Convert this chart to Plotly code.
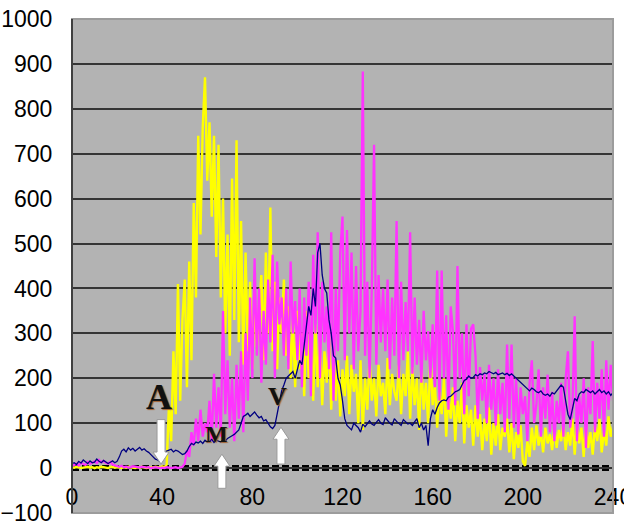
import plotly.graph_objects as go

# ---------------- data ----------------
x_vals = list(range(0, 241))

yellow_vals = [
    2, 1, 3, 2, 0, 1, 2, 3, 1, 2,
    0, 2, 1, 3, 2, 1, 0, 2, 3, 1,
    2, 1, 0, 2, 1, 3, 2, 1, 0, 2,
    1, 3, 2, 0, 1, 2, 1, 3, 2, 1,
    4, 2, 8, 140, 60, 260, 120, 410, 150, 330,
    420, 180, 460, 240, 590, 380, 740, 520, 760, 870,
    640, 770, 560, 740, 470, 720, 380, 600, 300, 520,
    250, 645, 330, 730, 280, 550, 230, 480, 260, 415,
    220, 380, 270, 340, 430, 240, 480, 300, 580, 260,
    415, 220, 380, 300, 420, 250, 360, 200, 330, 180,
    350, 220, 300, 160, 350, 200, 280, 150, 320, 180,
    290, 140, 260, 190, 300, 130, 275, 150, 240, 115,
    220, 160, 250, 120, 230, 170, 210, 100, 240, 85,
    200, 130, 245, 150, 200, 115, 230, 160, 190, 120,
    245, 140, 210, 170, 150, 230, 120, 210, 160, 260,
    110, 225, 140, 200, 85, 230, 130, 190, 100, 250,
    140, 185, 90, 170, 120, 200, 70, 160, 110, 180,
    60, 150, 100, 190, 55, 140, 90, 130, 50, 140,
    70, 120, 40, 110, 60, 135, 30, 100, 50, 120,
    40, 90, 70, 110, 35, 100, 20, 80, 45, 95,
    15, 5, 60, 25, 90, 40, 95, 50, 80, 35,
    90, 55, 75, 40, 95, 45, 85, 60, 100, 40,
    80, 50, 110, 30, 100, 55, 90, 25, 105, 45,
    80, 30, 95, 60, 110, 35, 85, 50, 115, 70,
    93,
]

magenta_vals = [
    5, 8, 10, 6, 12, 9, 7, 14, 10, 12,
    15, 11, 18, 13, 16, 12, 10, 14, 8, 6,
    4, 3, 5, 2, 3, 1, 2, 4, 3, 2,
    1, 3, 2, 1, 2, 0, 1, 2, 1, 0,
    1, 0, 2, 1, 0, 1, 2, 0, 1, 3,
    10, 40, 25, 80, 50, 110, 60, 130, 70, 100,
    80, 150, 60, 210, 90, 180, 70, 350, 120, 240,
    90, 200, 60, 230, 110, 260, 80, 300, 150, 380,
    200, 467, 250, 400, 190, 350, 230, 420, 280, 475,
    200, 460, 320, 380, 250, 400, 220, 460, 300, 372,
    240, 400, 180, 380, 250, 415, 160, 475, 300, 525,
    200, 415, 280, 360, 220, 525, 150, 400, 260, 480,
    560, 240, 530, 300, 480, 220, 450, 260, 350, 883,
    250, 415, 200, 400, 720, 230, 430, 280, 400, 260,
    420, 220, 380, 250, 550, 200, 415, 240, 370, 260,
    525, 210, 380, 230, 330, 190, 350, 240, 305, 200,
    320, 180, 440, 150, 440, 200, 340, 130, 360, 305,
    140, 450, 200, 300, 120, 320, 160, 310, 320, 250,
    110, 225, 150, 210, 100, 230, 130, 200, 95, 220,
    120, 190, 80, 275, 110, 275, 90, 200, 75, 180,
    120, 160, 60, 190, 240, 100, 140, 220, 70, 180,
    110, 208, 80, 170, 60, 150, 100, 190, 70, 200,
    260, 90, 130, 338, 60, 160, 100, 200, 45, 180,
    120, 283, 80, 190, 110, 220, 70, 240, 130, 230,
    150,
]

navy_vals = [
    10, 12, 8, 15, 11, 18, 14, 10, 16, 12,
    13, 20, 15, 12, 17, 14, 10, 13, 16, 12,
    15, 25, 38, 42, 36, 45, 40, 44, 38, 42,
    46, 40, 43, 38, 35, 30, 25, 20, 18, 15,
    16, 25, 38, 40, 42, 36, 40, 38, 33, 30,
    32, 38, 48, 55, 52, 58, 56, 60, 55, 62,
    58, 60, 64, 57, 62, 60, 58, 63, 60, 66,
    70, 72, 75, 80, 85, 100, 115, 118, 122, 115,
    120, 125, 118, 112, 115, 105, 108, 100, 92, 88,
    95, 120, 150, 172, 185, 200, 205, 210, 215, 200,
    220, 240, 230, 270, 320, 360, 340, 400, 360, 480,
    500, 430, 400, 390, 330, 300, 250, 245, 200, 185,
    150, 110, 95, 90, 85, 100, 95, 90, 80, 98,
    92, 100, 105, 98, 95, 102, 108, 100, 97, 112,
    105, 100, 96, 110, 104, 100, 95, 108, 102, 98,
    100, 95, 103, 110, 90, 100, 85, 95, 50, 110,
    130, 120, 135, 145, 150, 152, 150, 158, 160, 165,
    170, 172, 175, 185, 195, 198, 205, 200, 202, 208,
    205, 210, 208, 212, 210, 215, 212, 210, 213, 208,
    210, 212, 208, 211, 206, 210, 205, 200, 195, 190,
    185, 180, 175, 172, 178, 175, 170, 168, 172, 165,
    162, 165, 160, 168, 165, 172, 178, 185, 180, 150,
    120, 108, 130, 155, 150, 165, 170, 168, 175, 172,
    168, 172, 165, 170, 175, 168, 172, 165, 170, 162,
    168,
]

y_tick_vals = list(range(-100, 1001, 100))
x_tick_vals = [0, 40, 80, 120, 160, 200, 240]
x_tick_text = ["0", "40", "80", "120", "160", "200", "240"]

# event markers: label, label position, arrow x, arrow tip y, arrow tail y
marker_labels = ["A", "M", "V"]
marker_label_x = [38.6, 64.3, 91.0]
marker_label_y = [159, 77, 159]
marker_arrow_x = [39.5, 66.5, 92.7]
marker_tip_y = [9, 31, 91]
marker_tail_y = [108, -45, 9]
marker_font_size = [36, 24, 26]

# ---------------- figure ----------------
W, H = 624, 523
ML, MR, MT, MB = 72, 11, 19, 10
XR = [0, 240]
YR = [-100, 1000]
px_per_x = (W - ML - MR) / (XR[1] - XR[0])
px_per_y = (H - MT - MB) / (YR[1] - YR[0])

fig = go.Figure()
fig.add_trace(go.Scatter(x=x_vals, y=yellow_vals, mode="lines",
                         line=dict(color="#ffff00", width=2.4), name="yellow"))
fig.add_trace(go.Scatter(x=x_vals, y=magenta_vals, mode="lines",
                         line=dict(color="#ff33ff", width=2.3), name="magenta"))
fig.add_trace(go.Scatter(x=x_vals, y=navy_vals, mode="lines",
                         line=dict(color="#000080", width=1.3), name="navy"))

shapes = []
# dashed zero line (under the traces)
shapes.append(dict(type="line", xref="x", yref="y", x0=XR[0], x1=XR[1], y0=0, y1=0,
                   line=dict(color="#000000", width=6, dash="7px,3px"), layer="below"))


def arrow_path(cx, tip, tail):
    shaft_hw = 4.0 / px_per_x
    head_hw = 8.0 / px_per_x
    head_len = 12.0 / px_per_y
    d = 1 if tip > tail else -1  # 1 = pointing up
    base = tip - d * head_len
    pts = [(cx - shaft_hw, tail), (cx - shaft_hw, base), (cx - head_hw, base),
           (cx, tip), (cx + head_hw, base), (cx + shaft_hw, base), (cx + shaft_hw, tail)]
    return "M " + " L ".join(f"{a:.3f},{b:.3f}" for a, b in pts) + " Z"


annotations = []
for lab, lx, ly, ax, tip, tail, fs in zip(marker_labels, marker_label_x, marker_label_y,
                                          marker_arrow_x, marker_tip_y, marker_tail_y,
                                          marker_font_size):
    shapes.append(dict(type="path", xref="x", yref="y", path=arrow_path(ax, tip, tail),
                       fillcolor="#ffffff", line=dict(color="#9a9a9a", width=1), layer="above"))
    annotations.append(dict(x=lx, y=ly, xref="x", yref="y",
                            text=f"<b>{lab}</b>", showarrow=False,
                            font=dict(family="Liberation Serif, DejaVu Serif, serif",
                                      size=fs, color="#111111",
                                      shadow="1px 1px 1px #a06030")))

# plot-area border
shapes.append(dict(type="rect", xref="paper", yref="paper", x0=0, x1=1, y0=0, y1=1,
                   line=dict(color="#9c9c9c", width=2), layer="above"))
shapes.append(dict(type="line", xref="paper", yref="paper", x0=0, x1=0, y0=0, y1=1,
                   line=dict(color="#404040", width=2), layer="above"))

fig.update_layout(
    width=W, height=H,
    margin=dict(l=ML, r=MR, t=MT, b=MB, pad=0, autoexpand=False),
    paper_bgcolor="#ffffff",
    plot_bgcolor="#b3b3b3",
    showlegend=False,
    shapes=shapes,
    annotations=annotations,
    font=dict(family="Liberation Sans, Arial, sans-serif", color="#000000"),
    xaxis=dict(
        range=XR, tickmode="array", tickvals=x_tick_vals, ticktext=x_tick_text,
        showgrid=False, zeroline=False, showline=False, automargin=False,
        anchor="free", position=(0 - YR[0]) / (YR[1] - YR[0]),
        ticks="outside", ticklen=8, tickcolor="rgba(0,0,0,0)",
        ticklabeloverflow="allow",
        tickfont=dict(size=23, color="#000000"),
    ),
    yaxis=dict(
        range=YR, tickmode="array", tickvals=y_tick_vals,
        showgrid=True, gridcolor="#353535", gridwidth=2,
        zeroline=False, showline=False, automargin=False,
        ticks="outside", ticklen=14, tickcolor="rgba(0,0,0,0)",
        ticklabeloverflow="allow",
        tickfont=dict(size=23, color="#000000"),
    ),
)

fig.write_html(
    "out.html",
    config={"displayModeBar": False},
    post_script="document.body.style.margin='0';document.body.style.padding='0';"
                "document.body.style.overflow='hidden';",
)
